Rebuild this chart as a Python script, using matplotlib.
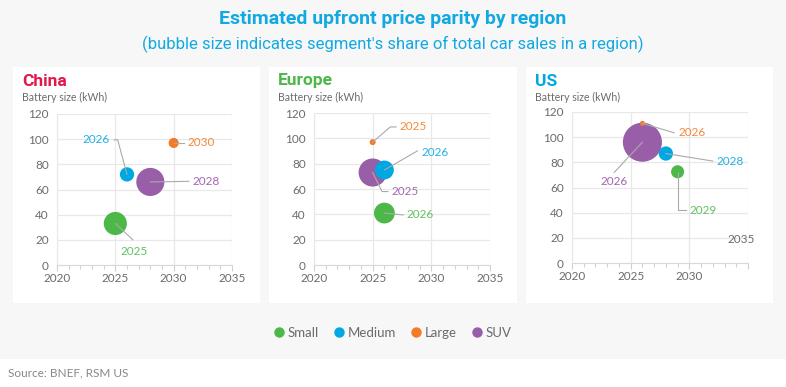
import matplotlib
matplotlib.use("Agg")
import matplotlib.pyplot as plt
from matplotlib.patches import Rectangle
from matplotlib.lines import Line2D

# ---------------- data ----------------
segments = ["Small", "Medium", "Large", "SUV"]
regions = ["China", "Europe", "US"]

china_year = [2025, 2026, 2030, 2028]
china_kwh = [33, 72, 97, 66]
china_share = [21, 8, 4, 31]

europe_year = [2026, 2026, 2025, 2025]
europe_kwh = [41, 75, 97, 73]
europe_share = [17, 14, 1.4, 31]

us_year = [2029, 2028, 2026, 2026]
us_kwh = [72.5, 87, 111, 96]
us_share = [6.7, 8, 1, 60]

x_ticks = [2020, 2025, 2030, 2035]
y_ticks = [0, 20, 40, 60, 80, 100, 120]

# ---------------- style ----------------
seg_colors = ["#4cb847", "#00a8e1", "#f37a28", "#985ea7"]
lab_colors = ["#62c062", "#22b0e6", "#f5893a", "#a267b1"]
region_colors = ["#e3174a", "#4cb847", "#00a8e1"]
grid_c = "#e8e8e8"
txt_c = "#6b6b6b"
lead_c = "#aaaaaa"
FONT = "Lato"

W, H = 786, 387
fig = plt.figure(figsize=(W / 100, H / 100), dpi=100)
fig.patch.set_facecolor("#f7f7f7")

def px_rect(x0, y0, x1, y1):
    return [x0 / W, 1 - y1 / H, (x1 - x0) / W, (y1 - y0) / H]

# white bottom strip
fig.add_artist(Rectangle((0, 0), 1, 1 - 359 / H, transform=fig.transFigure,
                         facecolor="white", edgecolor="none", zorder=0))

panels = [(13, 67, 260, 303), (269, 67, 517, 303), (526, 67, 773, 303)]
for (x0, y0, x1, y1) in panels:
    r = px_rect(x0, y0, x1, y1)
    fig.add_artist(Rectangle((r[0], r[1]), r[2], r[3], transform=fig.transFigure,
                             facecolor="white", edgecolor="none", zorder=0))

axes_px = [(57, 114, 232, 265), (314, 113, 490, 265), (572, 112, 748, 263)]

years = [china_year, europe_year, us_year]
kwhs = [china_kwh, europe_kwh, us_kwh]
shares = [china_share, europe_share, us_share]

# label positions and leader paths (data coords), per region, per segment
labels = [
    [  # China
        (2026.6, 11, "center", [(2025, 33), (2026.5, 20)]),
        (2024.5, 99.5, "right", [(2026, 72), (2025.2, 99.5), (2024.9, 99.5)]),
        (2031.2, 97, "left", [(2030, 97), (2030.9, 97)]),
        (2031.6, 66.5, "left", [(2028, 66), (2031.3, 66.5)]),
    ],
    [  # Europe
        (2027.9, 39.5, "left", [(2026, 41), (2027.6, 39.5)]),
        (2029.2, 89, "left", [(2026, 75), (2028.8, 90)]),
        (2027.3, 109, "left", [(2025, 97), (2026.5, 109), (2027.0, 109)]),
        (2026.6, 58, "left", [(2025, 73), (2025.8, 58), (2026.3, 58)]),
    ],
    [  # US
        (2030.0, 42, "left", [(2029, 72.5), (2029.0, 42), (2029.7, 42)]),
        (2032.3, 81, "left", [(2028, 87), (2032.0, 81)]),
        (2029.1, 103.5, "left", [(2026, 111), (2028.7, 103.5)]),
        (2023.6, 65, "center", [(2026, 96), (2023.6, 72)]),
    ],
]

SCALE = 13.2  # marker area (pt^2) per share unit

for i, reg in enumerate(regions):
    x0, y0, x1, y1 = axes_px[i]
    ax = fig.add_axes(px_rect(x0, y0, x1, y1))
    ax.set_facecolor("none")
    ax.set_xlim(2020, 2035)
    ax.set_ylim(0, 120)
    ax.set_xticks(x_ticks)
    ax.set_xticks(range(2020, 2036), minor=True)
    ax.set_yticks(y_ticks)
    ax.grid(True, color=grid_c, lw=0.9, zorder=0)
    ax.set_axisbelow(True)
    for s in ["top", "right"]:
        ax.spines[s].set_visible(False)
    ax.spines["left"].set_color(grid_c)
    ax.spines["bottom"].set_color("#d9d9d9")
    ax.tick_params(axis="x", which="both", color="#d0d0d0", length=4, width=0.8,
                   labelsize=8.5, labelcolor=txt_c, pad=2)
    ax.tick_params(axis="x", which="minor", length=3)
    ax.tick_params(axis="y", length=0, labelsize=8.5, labelcolor=txt_c, pad=6)
    for lab in ax.get_xticklabels() + ax.get_yticklabels():
        lab.set_fontfamily(FONT)

    # bubbles
    order = sorted(range(4), key=lambda k: -shares[i][k])
    for k in order:
        ax.scatter([years[i][k]], [kwhs[i][k]], s=shares[i][k] * SCALE,
                   color=seg_colors[k], edgecolor="none", zorder=3, clip_on=False)
    # leaders + labels
    for k in range(4):
        tx, ty, ha, path = labels[i][k]
        xs = [p[0] for p in path]
        ys = [p[1] for p in path]
        ax.plot(xs, ys, color=lead_c, lw=0.8, zorder=4, clip_on=False)
        ax.text(tx, ty, str(years[i][k]), ha=ha, va="center", fontsize=8.5,
                color=lab_colors[k], fontfamily=FONT, zorder=5, clip_on=False)

    if reg == "US":
        ax.text(2035.6, 19, "2035", ha="right", va="center", fontsize=8.5,
                color=txt_c, fontfamily=FONT)
        ax.set_xticklabels(["2020", "2025", "2030", ""])

    # panel titles
    px0 = panels[i][0] + 9
    fig.text(px0 / W, 1 - 81 / H, reg, fontsize=12.5, fontweight="bold",
             color=region_colors[i], fontfamily="Roboto", va="center", ha="left")
    fig.text(px0 / W, 1 - 97.5 / H, "Battery size (kWh)", fontsize=7.6,
             color=txt_c, fontfamily=FONT, va="center", ha="left")

# titles
fig.text(0.5, 1 - 19 / H, "Estimated upfront price parity by region", ha="center",
         va="center", fontsize=14, fontweight="bold", color="#12a9e3", fontfamily="Roboto")
fig.text(0.5, 1 - 44 / H, "(bubble size indicates segment's share of total car sales in a region)",
         ha="center", va="center", fontsize=12, color="#12a9e3", fontfamily="Roboto")

# legend
handles = [Line2D([0], [0], marker="o", ls="none", markersize=7.5, markerfacecolor=c,
                  markeredgecolor="none") for c in seg_colors]
leg = fig.legend(handles, segments, loc="center", bbox_to_anchor=(0.5, 1 - 333 / H),
                 ncol=4, frameon=False, handlelength=0.7, handletextpad=0.3,
                 columnspacing=1.2, prop={"family": FONT, "size": 9.5})
for t in leg.get_texts():
    t.set_color(txt_c)

fig.text(8 / W, 1 - 373 / H, "Source: BNEF, RSM US", fontsize=8.5, color="#888888",
         fontfamily=FONT, va="center", ha="left")

fig.savefig("out.png", dpi=100, facecolor=fig.get_facecolor())
